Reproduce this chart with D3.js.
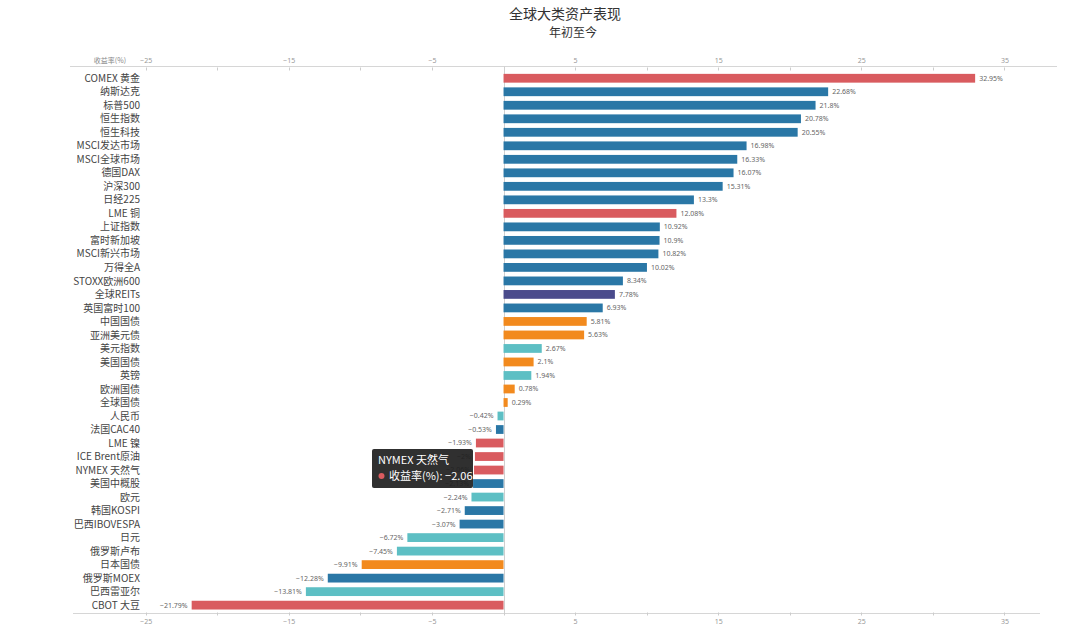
<!DOCTYPE html>
<html><head><meta charset="utf-8">
<script src="https://cdn.jsdelivr.net/npm/d3@7"></script>
<style>
html,body{margin:0;padding:0;background:#fff;}
svg{display:block;font-family:"Noto Sans CJK SC","Noto Sans",sans-serif;}
</style></head>
<body><svg id="c" width="1080" height="636"></svg>
<script>
const categories = ["COMEX 黄金","纳斯达克","标普500","恒生指数","恒生科技","MSCI发达市场","MSCI全球市场","德国DAX","沪深300","日经225","LME 铜","上证指数","富时新加坡","MSCI新兴市场","万得全A","STOXX欧洲600","全球REITs","英国富时100","中国国债","亚洲美元债","美元指数","美国国债","英镑","欧洲国债","全球国债","人民币","法国CAC40","LME 镍","ICE Brent原油","NYMEX 天然气","美国中概股","欧元","韩国KOSPI","巴西IBOVESPA","日元","俄罗斯卢布","日本国债","俄罗斯MOEX","巴西雷亚尔","CBOT 大豆"];
const values = [32.95,22.68,21.8,20.78,20.55,16.98,16.33,16.07,15.31,13.3,12.08,10.92,10.9,10.82,10.02,8.34,7.78,6.93,5.81,5.63,2.67,2.1,1.94,0.78,0.29,-0.42,-0.53,-1.93,-2.0,-2.06,-2.13,-2.24,-2.71,-3.07,-6.72,-7.45,-9.91,-12.28,-13.81,-21.79];
const groups = ["商品","股票","股票","股票","股票","股票","股票","股票","股票","股票","商品","股票","股票","股票","股票","股票","地产","股票","债券","债券","外汇","债券","外汇","债券","债券","外汇","股票","商品","商品","商品","股票","外汇","股票","股票","外汇","外汇","债券","股票","外汇","商品"];
const groupNames = ["商品","股票","地产","债券","外汇"];
const groupColors = ["#d95b5f","#2a77a6","#4a4b8c","#f28a1e","#5dbfc4"];
const tickValues = [-25,-20,-15,-10,-5,0,5,10,15,20,25,30,35];
const labelTicks = [-25,-15,-5,5,15,25,35];
const title = "全球大类资产表现";
const subtitle = "年初至今";
const axisName = "收益率(%)";
const tooltipName = "NYMEX 天然气";
const tooltipValue = -2.06;

const svg = d3.select("#c");
const color = d3.scaleOrdinal().domain(groupNames).range(groupColors);
const x = d3.scaleLinear().domain([-30.2, 38.6]).range([71.3, 1056]);
const step = 13.51;
const y = d3.scaleBand().domain(categories).range([71.5, 71.5 + step*categories.length]).paddingInner(0.35).paddingOuter(0.175);

// titles
svg.append("text").attr("x",565).attr("y",19).attr("text-anchor","middle")
  .attr("font-size",14).attr("fill","#333").text(title);
svg.append("text").attr("x",573).attr("y",37).attr("text-anchor","middle")
  .attr("font-size",12).attr("fill","#333").text(subtitle);

const topY = 66.5, botY = 613.5;
// top axis
const topAxis = d3.axisTop(x).tickValues(tickValues).tickSize(0).tickFormat(d => labelTicks.includes(d) ? d3.format("")(d) : "");
const gTop = svg.append("g").attr("transform",`translate(0,${topY})`).call(topAxis);
gTop.select(".domain").remove();
gTop.selectAll("text").attr("font-size",7).attr("fill","#999").attr("dy","-0.1em").attr("font-family","Noto Sans,sans-serif");
svg.append("line").attr("x1",70).attr("x2",1057).attr("y1",topY).attr("y2",topY).attr("stroke","#d6d6d6");
svg.selectAll(".tt").data(tickValues).join("line").attr("class","tt")
  .attr("x1",d=>Math.round(x(d))+0.5).attr("x2",d=>Math.round(x(d))+0.5)
  .attr("y1",topY+1).attr("y2",topY+4).attr("stroke","#ccc");
svg.append("text").attr("x",126).attr("y",topY-4).attr("text-anchor","end")
  .attr("font-size",7).attr("fill","#888").text(axisName);

// bottom axis
const botAxis = d3.axisBottom(x).tickValues(tickValues).tickSize(0).tickFormat(d => labelTicks.includes(d) ? d3.format("")(d) : "");
const gBot = svg.append("g").attr("transform",`translate(0,${botY})`).call(botAxis);
gBot.select(".domain").remove();
gBot.selectAll("text").attr("font-size",7).attr("fill","#999").attr("dy","1.1em").attr("font-family","Noto Sans,sans-serif");
svg.append("line").attr("x1",73).attr("x2",1040).attr("y1",botY).attr("y2",botY).attr("stroke","#d6d6d6");
svg.selectAll(".bt").data(tickValues).join("line").attr("class","bt")
  .attr("x1",d=>Math.round(x(d))+0.5).attr("x2",d=>Math.round(x(d))+0.5)
  .attr("y1",botY-1).attr("y2",botY+2).attr("stroke","#ccc");

// zero line
svg.append("line").attr("x1",Math.round(x(0))+0.5).attr("x2",Math.round(x(0))+0.5)
  .attr("y1",topY).attr("y2",botY).attr("stroke","#cfcfcf");

// category labels
svg.selectAll(".cl").data(categories).join("text").attr("class","cl")
  .attr("x",140).attr("y",d=>y(d)+y.bandwidth()/2).attr("dy","0.36em")
  .attr("text-anchor","end").attr("font-size",10).attr("fill","#444").text(d=>d);

// bars
const data = categories.map((c,i)=>({c, v: values[i], g: groups[i]}));
svg.selectAll(".bar").data(data).join("rect").attr("class","bar")
  .attr("x",d=>x(Math.min(0,d.v))).attr("width",d=>Math.abs(x(d.v)-x(0)))
  .attr("y",d=>y(d.c)).attr("height",y.bandwidth())
  .attr("fill",d=>color(d.g));

// value labels
svg.selectAll(".vl").data(data).join("text").attr("class","vl")
  .attr("x",d=> d.v>=0 ? x(d.v)+4 : x(d.v)-4)
  .attr("y",d=>y(d.c)+y.bandwidth()/2).attr("dy","0.35em")
  .attr("text-anchor",d=>d.v>=0?"start":"end")
  .attr("font-size",7).attr("fill","#666").attr("font-family","Noto Sans,sans-serif")
  .text(d=>d3.format("")(d.v)+"%");

// tooltip
const tg = svg.append("g").attr("transform","translate(372,449)");
tg.append("rect").attr("width",101).attr("height",39).attr("rx",2).attr("fill","rgba(30,30,30,0.92)");
tg.append("text").attr("x",6).attr("y",15).attr("font-size",11).attr("fill","#fff").text(tooltipName);
tg.append("circle").attr("cx",9.5).attr("cy",27).attr("r",3).attr("fill",color("商品"));
tg.append("text").attr("x",17).attr("y",31).attr("font-size",11).attr("fill","#fff")
  .text(axisName+": "+d3.format("")(tooltipValue));
</script></body></html>
